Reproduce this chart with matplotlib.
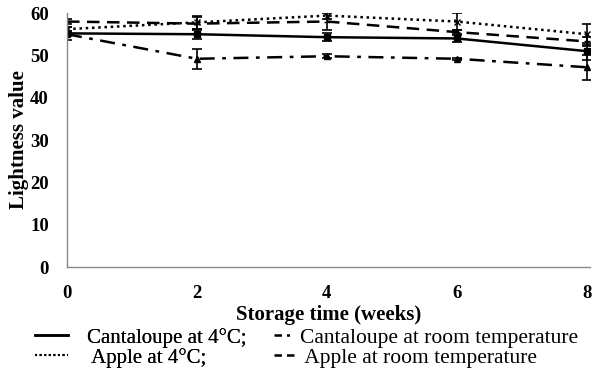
import matplotlib
matplotlib.use("Agg")
import matplotlib.pyplot as plt
from matplotlib.lines import Line2D

weeks = [0, 2, 4, 6, 8]
cant_4 = [55.2, 55.0, 54.3, 54.0, 51.0]
cant_4_err = [1.5, 1.2, 1.0, 0.8, 2.0]
cant_rt = [55.0, 49.2, 49.8, 49.2, 47.2]
cant_rt_err = [0.5, 2.3, 0.5, 0.3, 3.0]
apple_4 = [56.2, 57.8, 59.4, 58.0, 55.0]
apple_4_err = [0.5, 1.5, 0.8, 2.0, 2.5]
apple_rt = [58.0, 57.5, 58.0, 55.5, 53.3]
apple_rt_err = [0.5, 1.5, 2.0, 0.5, 1.0]

plt.rcParams['font.family'] = ['Liberation Serif']

fig = plt.figure(figsize=(5.93, 3.73), dpi=100)
ax = fig.add_axes([0.113, 0.284, 0.882, 0.681])

common = dict(color='black', ecolor='black', elinewidth=1.2, capsize=3.5, capthick=1.2, lw=1.8, markersize=4.5)
ax.errorbar(weeks, cant_4, yerr=cant_4_err, ls='-', marker='s', **common)
ax.errorbar(weeks, cant_rt, yerr=cant_rt_err, ls=(0, (6, 3, 1.5, 3)), marker='^', **common)
ax.errorbar(weeks, apple_4, yerr=apple_4_err, ls=(0, (1, 1.5)), marker='x', **common)
ax.errorbar(weeks, apple_rt, yerr=apple_rt_err, ls=(0, (5, 3)), marker='_', **common)

ax.set_xlim(0, 8.05)
ax.set_ylim(0, 60)
ax.set_xticks(weeks)
ax.set_yticks([0, 10, 20, 30, 40, 50, 60])
for s in ['top', 'right']:
    ax.spines[s].set_visible(False)
for s in ['left', 'bottom']:
    ax.spines[s].set_color('#888888')
    ax.spines[s].set_linewidth(1.0)
ax.tick_params(length=0, labelsize=13.5)
ax.tick_params(axis='x', pad=13)
ax.tick_params(axis='y', pad=13)
for lab in ax.get_xticklabels() + ax.get_yticklabels():
    lab.set_fontweight('bold')
ax.set_xlabel('Storage time (weeks)', fontsize=15, fontweight='bold', labelpad=2)
ax.set_ylabel('Lightness value', fontsize=15, fontweight='bold', labelpad=1)

h_left = [
    Line2D([], [], color='black', lw=1.8, ls='-'),
    Line2D([], [], color='black', lw=1.5, ls=(0, (1, 1.2))),
]
h_right = [
    Line2D([], [], color='black', lw=1.8, ls=(0, (3, 2, 1.2, 2))),
    Line2D([], [], color='black', lw=1.8, ls=(0, (3, 2))),
]
leg1 = fig.legend(h_left, ['Cantaloupe at 4°C;', ' Apple at 4°C;'], loc='center left',
                  bbox_to_anchor=(0.045, 0.068), frameon=False, fontsize=15,
                  handlelength=1.6, handletextpad=0.9, labelspacing=0.0, borderaxespad=0)
fig.add_artist(leg1)
fig.legend(h_right, ['Cantaloupe at room temperature', ' Apple at room temperature'], loc='center left',
           bbox_to_anchor=(0.448, 0.068), frameon=False, fontsize=15.5,
           handlelength=0.9, handletextpad=0.3, labelspacing=0.0, borderaxespad=0)

fig.savefig('out.png', dpi=100)
